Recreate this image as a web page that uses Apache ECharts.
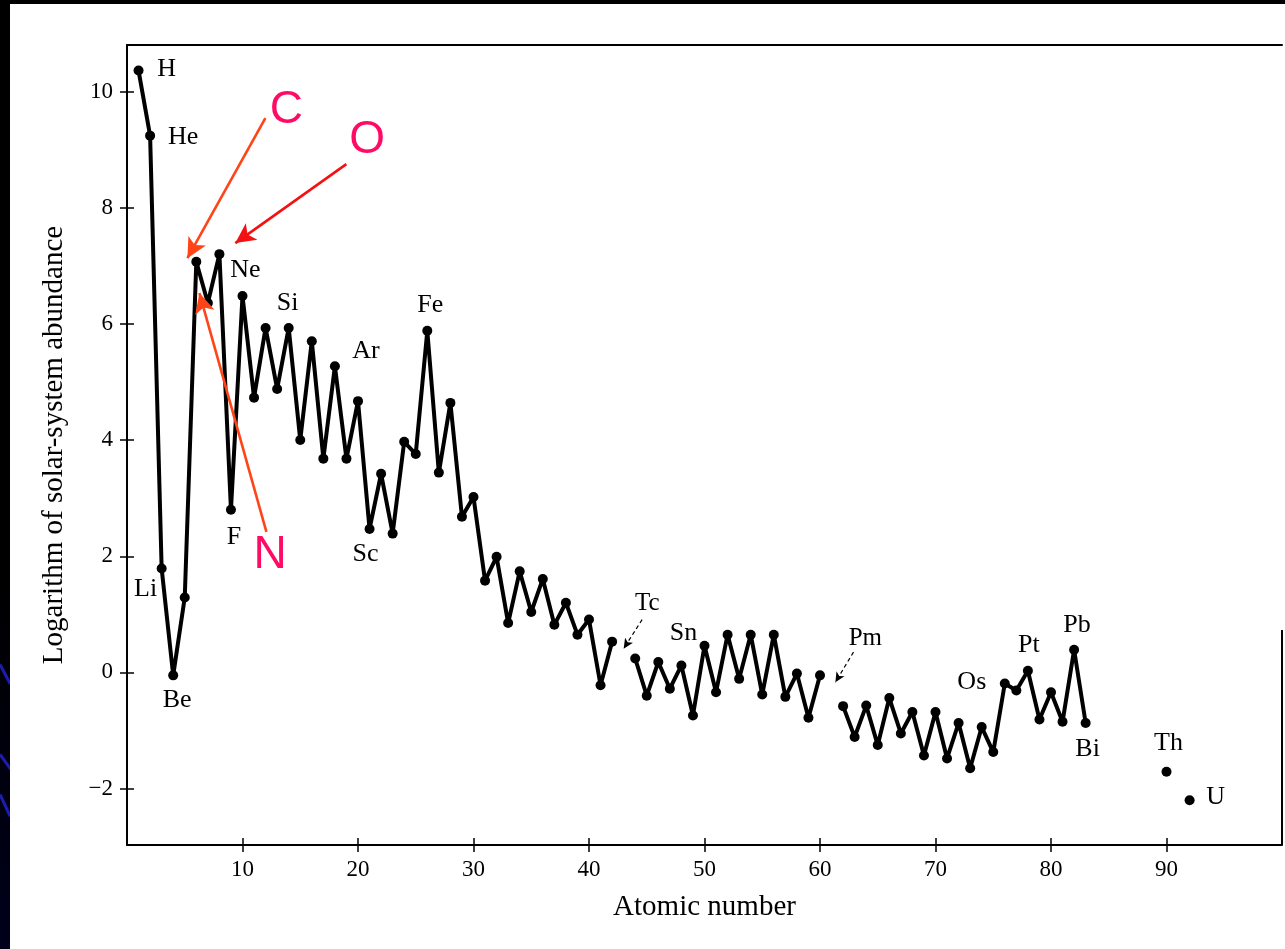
<!DOCTYPE html>
<html>
<head>
<meta charset="utf-8">
<script src="https://cdn.jsdelivr.net/npm/echarts@6/dist/echarts.min.js"></script>
<style>
html,body{margin:0;padding:0;width:1285px;height:949px;overflow:hidden;
  background:linear-gradient(to bottom,#000 0%,#000 60%,#00001c 100%);}
#chart{position:absolute;left:10px;top:4px;width:1275px;height:945px;background:#fff;}
.stripe{position:absolute;left:0;height:3px;background:#1c1cb0;transform-origin:left center;}
</style>
</head>
<body>
<div class="stripe" style="top:663px;width:22px;transform:rotate(62deg)"></div>
<div class="stripe" style="top:753px;width:18px;transform:rotate(54deg)"></div>
<div class="stripe" style="top:793px;width:24px;transform:rotate(65deg)"></div>
<div id="chart"></div>
<script>
// ---------------- data ----------------
const atomicNumber = [1,2,3,4,5,6,7,8,9,10,11,12,13,14,15,16,17,18,19,20,
  21,22,23,24,25,26,27,28,29,30,31,32,33,34,35,36,37,38,39,40,
  41,42,43,44,45,46,47,48,49,50,51,52,53,54,55,56,57,58,59,60,
  61,62,63,64,65,66,67,68,69,70,71,72,73,74,75,76,77,78,79,80,
  81,82,83,84,85,86,87,88,89,90,91,92];
const logAbundance = [10.36,9.24,1.79,-0.05,1.29,7.07,6.36,7.20,2.80,6.48,
  4.73,5.93,4.88,5.93,4.00,5.70,3.68,5.27,3.68,4.67,
  2.47,3.42,2.39,3.97,3.76,5.88,3.44,4.64,2.68,3.02,
  1.58,1.99,0.85,1.74,1.04,1.61,0.82,1.20,0.65,0.91,
  -0.22,0.53,null,0.24,-0.40,0.18,-0.28,0.12,-0.74,0.46,
  -0.34,0.65,-0.11,0.65,-0.38,0.65,-0.42,-0.02,-0.78,-0.05,
  null,-0.58,-1.11,-0.57,-1.25,-0.44,-1.05,-0.68,-1.43,-0.68,
  -1.48,-0.87,-1.65,-0.94,-1.37,-0.19,-0.31,0.03,-0.81,-0.34,
  -0.85,0.39,-0.87,null,null,null,null,null,null,-1.71,
  null,-2.20];
const labelZ    = [1,2,3,4,9,10,14,18,21,26,50,76,78,82,83,90,92];
const labelText = ['H','He','Li','Be','F','Ne','Si','Ar','Sc','Fe','Sn','Os','Pt','Pb','Bi','Th','U'];
const xTickValues = [10,20,30,40,50,60,70,80,90];
const yTickValues = [-2,0,2,4,6,8,10];
const xAxisTitle = 'Atomic number';
const yAxisTitle = 'Logarithm of solar-system abundance';
const noteText = ['C','O','N','Tc','Pm'];

// ---------------- layout / style config ----------------
const X_MIN = 0, X_MAX = 100, Y_MIN = -2.97, Y_MAX = 10.8;
const SERIF = '"Liberation Serif","Times New Roman",serif';
const SANS = '"Liberation Sans",Arial,sans-serif';
const labelOffset = {H:[28,-1],He:[33,2],Li:[-16,21],Be:[4,25],F:[3,27],Ne:[3,-26],
  Si:[-1,-25],Ar:[31,-15],Sc:[-4,25],Fe:[3,-26],Sn:[-21,-13],Os:[-33,-1],
  Pt:[1,-26],Pb:[3,-25],Bi:[2,26],Th:[2,-29],U:[26,-3]};
const notePlace = {
  C:{at:[13.8,9.68],from:[11.98,9.54],to:[5.23,7.13],red:true,arrow:'#ff4418'},
  O:{at:[20.8,9.16],from:[18.99,8.75],to:[9.38,7.39],red:true,arrow:'#f21212'},
  N:{at:[12.4,2.02],from:[12.07,2.42],to:[6.27,6.53],red:true,arrow:'#ff4418'},
  Tc:{at:[45.05,1.18],from:[44.6,0.91],to:[43.0,0.41],red:false,arrow:'#000'},
  Pm:{at:[63.93,0.59],from:[62.9,0.35],to:[61.33,-0.17],red:false,arrow:'#000'}
};

// ---------------- build ----------------
const lineData = atomicNumber.map((z,i)=>{
  const v = logAbundance[i];
  const item = {value:[z, v===null ? '-' : v]};
  const li = labelZ.indexOf(z);
  if (li >= 0) {
    const t = labelText[li];
    item.label = {show:true, formatter:t, position:'inside', offset:labelOffset[t]};
  }
  return item;
});

const noteData = noteText.map(t=>{
  const p = notePlace[t];
  return {value:p.at, label:{show:true, formatter:t,
    fontFamily: p.red ? SANS : SERIF,
    fontSize: p.red ? 46 : 25,
    color: p.red ? '#ff0a64' : '#000'}};
});
const arrowData = noteText.map(t=>{
  const p = notePlace[t];
  return [{coord:p.from, symbol:'none',
           lineStyle:{color:p.arrow, width:p.red?2.6:1.2, type:p.red?'solid':[4,3], opacity:1}},
          {coord:p.to, symbol:'arrow', symbolSize:p.red?[15,20]:[7,10],
           itemStyle:{color:p.arrow, opacity:1}}];
});
arrowData.push([{coord:[X_MAX,Y_MIN], symbol:'none', lineStyle:{color:'#000',width:2,type:'solid'}},
                {coord:[X_MAX,0.73], symbol:'none'}]);

const axisLine = {show:true, onZero:false, lineStyle:{color:'#000', width:2}};
const chart = echarts.init(document.getElementById('chart'), null, {renderer:'canvas'});
chart.setOption({
  animation:false,
  backgroundColor:'#fff',
  grid:{left:117, top:41, width:1155, height:800, containLabel:false},
  xAxis:[
    {type:'value', position:'bottom', min:X_MIN, max:X_MAX,
     axisLine, splitLine:{show:false},
     axisTick:{show:true, inside:false, length:7, lineStyle:{color:'#000',width:1.5}, customValues:xTickValues},
     axisLabel:{show:true, customValues:xTickValues, margin:13, color:'#000', fontFamily:SERIF, fontSize:23},
     name:xAxisTitle, nameLocation:'middle', nameGap:48,
     nameTextStyle:{color:'#000', fontFamily:SERIF, fontSize:29}},
    {type:'value', position:'bottom', min:X_MIN, max:X_MAX,
     axisLine:{show:false, onZero:false}, splitLine:{show:false}, axisLabel:{show:false},
     axisTick:{show:true, inside:true, length:7, lineStyle:{color:'#000',width:1.5}, customValues:xTickValues}},
    {type:'value', position:'top', min:X_MIN, max:X_MAX,
     axisLine, splitLine:{show:false}, axisLabel:{show:false}, axisTick:{show:false}}
  ],
  yAxis:[
    {type:'value', position:'left', min:Y_MIN, max:Y_MAX,
     axisLine, splitLine:{show:false},
     axisTick:{show:true, inside:false, length:7, lineStyle:{color:'#000',width:1.5}, customValues:yTickValues},
     axisLabel:{show:true, customValues:yTickValues, margin:14, color:'#000', fontFamily:SERIF, fontSize:23,
       formatter:v=> v<0 ? '\u2212' + Math.abs(v) : String(v)},
     name:yAxisTitle, nameLocation:'middle', nameGap:58, nameRotate:90,
     nameTextStyle:{color:'#000', fontFamily:SERIF, fontSize:29}},
    {type:'value', position:'left', min:Y_MIN, max:Y_MAX,
     axisLine:{show:false, onZero:false}, splitLine:{show:false}, axisLabel:{show:false},
     axisTick:{show:true, inside:true, length:7, lineStyle:{color:'#000',width:1.5}, customValues:yTickValues}}
  ],
  series:[
    {type:'line', xAxisIndex:0, yAxisIndex:0, data:lineData, connectNulls:false,
     symbol:'circle', symbolSize:10, showAllSymbol:true,
     lineStyle:{color:'#000', width:4}, itemStyle:{color:'#000'},
     label:{show:false, color:'#000', fontFamily:SERIF, fontSize:26},
     emphasis:{disabled:true}, silent:true, z:3},
    {type:'scatter', xAxisIndex:0, yAxisIndex:0, data:noteData, symbolSize:0,
     itemStyle:{opacity:1},
     label:{show:true, position:'inside'}, emphasis:{disabled:true}, silent:true, z:4,
     markLine:{silent:true, animation:false, label:{show:false}, emphasis:{disabled:true},
       symbol:['none','arrow'], data:arrowData}}
  ]
});
</script>
</body>
</html>
